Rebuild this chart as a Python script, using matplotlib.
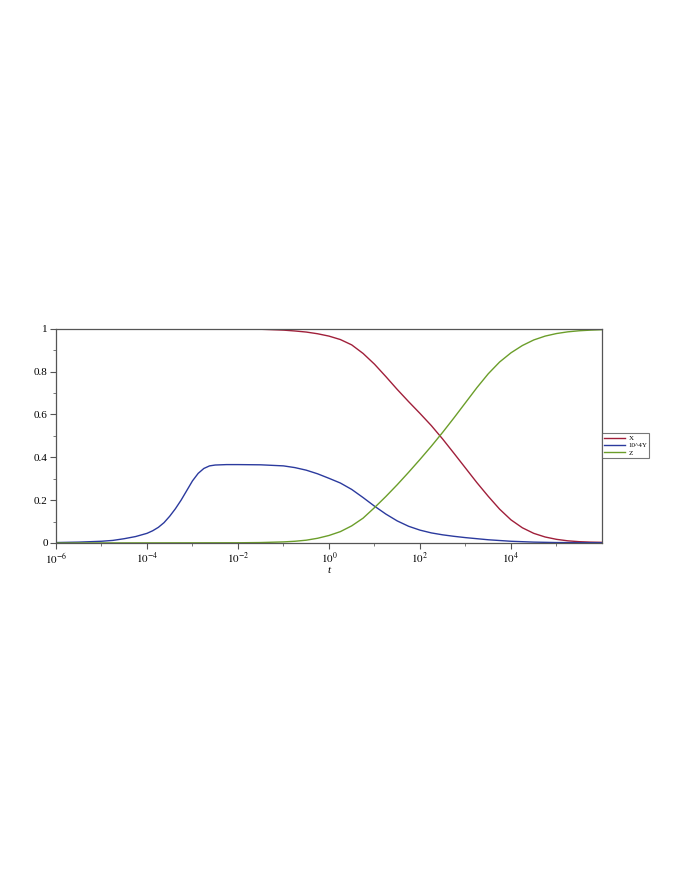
import numpy as np
import matplotlib
matplotlib.use('Agg')
import matplotlib.pyplot as plt
from matplotlib.ticker import FixedLocator, FixedFormatter, NullFormatter

plt.rcParams['font.family'] = ['Liberation Serif', 'DejaVu Serif']
plt.rcParams['mathtext.fontset'] = 'stix'

# log10(t) sample points and curve values
x_exp = [-6, -3, -2, -1.5, -1, -0.75, -0.5, -0.25, 0, 0.25, 0.5, 0.75, 1.0, 1.25, 1.5, 1.75,
         2.0, 2.25, 2.5, 2.75, 3.0, 3.25, 3.5, 3.75, 4.0, 4.25, 4.5, 4.75, 5.0, 5.25, 5.5, 5.75, 6.0]
x_val = [1.0, 1.0, 0.999, 0.998, 0.994, 0.99, 0.985, 0.977, 0.966, 0.95, 0.925, 0.885, 0.835, 0.777,
         0.717, 0.66, 0.605, 0.548, 0.485, 0.418, 0.35, 0.282, 0.218, 0.158, 0.108, 0.071, 0.045,
         0.028, 0.017, 0.01, 0.006, 0.004, 0.003]

y_exp = [-6, -5.5, -5, -4.75, -4.5, -4.25, -4.0, -3.875, -3.75, -3.625, -3.5, -3.375, -3.25,
         -3.125, -3.0, -2.875, -2.75, -2.625, -2.5, -2.25, -2.0, -1.5, -1.0, -0.75, -0.5, -0.25,
         0, 0.25, 0.5, 0.75, 1.0, 1.25, 1.5, 1.75, 2.0, 2.25, 2.5, 2.75, 3.0, 3.25, 3.5, 4.0,
         4.5, 5.0, 6.0]
y_val = [0.002, 0.004, 0.008, 0.012, 0.02, 0.03, 0.045, 0.057, 0.073, 0.095, 0.125, 0.16, 0.2,
         0.245, 0.29, 0.325, 0.348, 0.36, 0.364, 0.366, 0.366, 0.365, 0.36, 0.352, 0.34, 0.323,
         0.302, 0.28, 0.25, 0.212, 0.172, 0.135, 0.103, 0.078, 0.06, 0.047, 0.038, 0.031, 0.025,
         0.02, 0.015, 0.008, 0.004, 0.002, 0.001]

z_exp = [-6, -2, -1.5, -1, -0.75, -0.5, -0.25, 0, 0.25, 0.5, 0.75, 1.0, 1.25, 1.5, 1.75, 2.0,
         2.25, 2.5, 2.75, 3.0, 3.25, 3.5, 3.75, 4.0, 4.25, 4.5, 4.75, 5.0, 5.25, 5.5, 5.75, 6.0]
z_val = [0.0, 0.001, 0.002, 0.005, 0.008, 0.013, 0.022, 0.035, 0.053, 0.08, 0.116, 0.165, 0.217,
         0.272, 0.33, 0.39, 0.452, 0.517, 0.585, 0.655, 0.725, 0.79, 0.845, 0.888, 0.922, 0.948,
         0.966, 0.978, 0.986, 0.991, 0.994, 0.996]

labels = ['X', '10^4Y', 'Z']
colors = ['#a01f3a', '#2b3a9e', '#6b9e2a']

fig = plt.figure(figsize=(6.92, 8.96), dpi=100)
ax = fig.add_axes([0.0809, 0.394, 0.789, 0.239])

ax.plot(10.0 ** np.array(x_exp), x_val, color=colors[0], lw=1.0, label=labels[0])
ax.plot(10.0 ** np.array(y_exp), y_val, color=colors[1], lw=1.0, label=labels[1])
ax.plot(10.0 ** np.array(z_exp), z_val, color=colors[2], lw=1.0, label=labels[2])

ax.set_xscale('log')
ax.set_xlim(1e-6, 1e6)
ax.set_ylim(0, 1)

major_x = [1e-6, 1e-4, 1e-2, 1e0, 1e2, 1e4]
ax.xaxis.set_major_locator(FixedLocator(major_x))
ax.xaxis.set_major_formatter(FixedFormatter([r'$10^{-6}$', r'$10^{-4}$', r'$10^{-2}$',
                                             r'$10^{0}$', r'$10^{2}$', r'$10^{4}$']))
ax.xaxis.set_minor_locator(FixedLocator([1e-5, 1e-3, 1e-1, 1e1, 1e3, 1e5]))
ax.xaxis.set_minor_formatter(NullFormatter())

ax.yaxis.set_major_locator(FixedLocator([0, 0.2, 0.4, 0.6, 0.8, 1.0]))
ax.yaxis.set_major_formatter(FixedFormatter(['0', '0.2', '0.4', '0.6', '0.8', '1']))
ax.yaxis.set_minor_locator(FixedLocator([0.1, 0.3, 0.5, 0.7, 0.9]))

for s in ax.spines.values():
    s.set_color('#555555')
    s.set_linewidth(0.9)
ax.tick_params(which='major', length=4, width=0.8, color='#555555', labelsize=8, pad=2)
ax.tick_params(which='minor', length=2.5, width=0.7, color='#777777')

ax.set_xlabel('t', fontsize=8, style='italic', labelpad=0)

leg = ax.legend(loc='center left', bbox_to_anchor=(1.0, 0.456), borderaxespad=0,
                fontsize=5, frameon=True, fancybox=False, handlelength=3,
                handletextpad=0.5, borderpad=0.3, labelspacing=0.2)
leg.get_frame().set_edgecolor('#555555')
leg.get_frame().set_linewidth(0.8)

fig.savefig('out.png', dpi=100)
